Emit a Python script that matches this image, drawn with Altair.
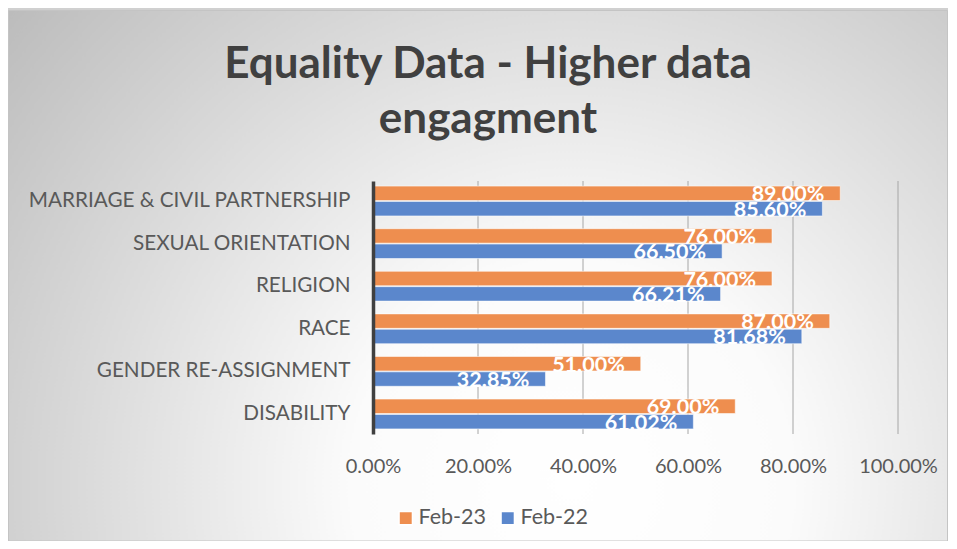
import altair as alt
import pandas as pd

# ---- data ----
categories = [
    "MARRIAGE & CIVIL PARTNERSHIP",
    "SEXUAL ORIENTATION",
    "RELIGION",
    "RACE",
    "GENDER RE-ASSIGNMENT",
    "DISABILITY",
]
feb23 = [0.89, 0.76, 0.76, 0.87, 0.51, 0.69]
feb22 = [0.856, 0.665, 0.6621, 0.8168, 0.3285, 0.6102]
series = ["Feb-23", "Feb-22"]
colors = ["#EE8E4F", "#5B87CC"]
axis_ticks = [0.0, 0.2, 0.4, 0.6, 0.8, 1.0]
grid_ticks = [0.2, 0.4, 0.6, 0.8, 1.0]
title_lines = ["Equality Data - Higher data", "engagment"]

rows = []
for c, a, b in zip(categories, feb23, feb22):
    rows.append({"category": c, "series": series[0], "value": a})
    rows.append({"category": c, "series": series[1], "value": b})
df = pd.DataFrame(rows)

# ---- layout ----
W, H = 525, 253
PL, PT, PR, PB = 365, 173, 50, 107
FONT = "Lato"
TEXT_GRAY = "#595959"

gradient = {
    "gradient": "radial",
    "x1": 0.6, "y1": 0.72, "r1": 0,
    "x2": 0.6, "y2": 0.72, "r2": 0.78,
    "stops": [
        {"offset": 0, "color": "#ffffff"},
        {"offset": 0.3, "color": "#fbfbfb"},
        {"offset": 1, "color": "#bcbcbc"},
    ],
}

bg = alt.Chart(pd.DataFrame({"k": [0]})).mark_rect(
    fill=gradient, stroke="#c4c4c4", strokeWidth=1
).encode(
    x=alt.value(-PL + 0.5), x2=alt.value(W + PR - 0.5),
    y=alt.value(-PT + 2.5), y2=alt.value(H + PB),
)

title = alt.Chart(pd.DataFrame({"k": [0]})).mark_text(
    text=title_lines, font=FONT, fontSize=44, fontWeight="bold", color="#404040",
    align="center", baseline="top", lineHeight=55,
).encode(x=alt.value(115), y=alt.value(-138))

xscale = alt.Scale(domain=[0, 1], nice=False)
x_axis = alt.Axis(
    values=axis_ticks, format=".2%", grid=False, domain=False, ticks=False,
    labelFont=FONT, labelFontSize=20, labelColor=TEXT_GRAY, labelPadding=22,
    labelOverlap=False, labelFlush=False, title=None, zindex=1,
)
y_axis = alt.Axis(
    title=None, ticks=False, domain=True, domainColor="#404040", domainWidth=3.5,
    labelFont=FONT, labelFontSize=20.7, labelColor=TEXT_GRAY, labelPadding=23,
    labelLimit=400, zindex=1,
)

grid = alt.Chart(pd.DataFrame({"value": grid_ticks})).mark_rule(
    color="#a6a6a6", strokeWidth=1
).encode(x=alt.X("value:Q", scale=xscale, axis=x_axis))

y_enc = alt.Y(
    "category:N", sort=categories,
    scale=alt.Scale(paddingInner=0.3, paddingOuter=0.12),
    axis=y_axis,
)
yoff_enc = alt.YOffset("series:N", sort=series, scale=alt.Scale(paddingInner=0.06))

bars = alt.Chart(df).mark_bar(
    stroke="#ffffff", strokeOpacity=0.55, strokeWidth=1
).encode(
    x=alt.X("value:Q", scale=xscale, axis=x_axis),
    y=y_enc, yOffset=yoff_enc,
    color=alt.Color(
        "series:N",
        scale=alt.Scale(domain=series, range=colors),
        legend=alt.Legend(
            title=None, orient="none", legendX=22, legendY=326, direction="horizontal",
            symbolType="square", symbolSize=180, labelFont=FONT, labelFontSize=21.5,
            labelColor=TEXT_GRAY, columnPadding=10, labelOffset=2, padding=0, zindex=1,
        ),
    ),
)

labels = alt.Chart(df).mark_text(
    align="right", baseline="middle", dx=-16, dy=2,
    font=FONT, fontWeight="bold", fontSize=21.5, color="white",
).encode(
    x=alt.X("value:Q", scale=xscale, axis=x_axis),
    y=y_enc,
    yOffset=yoff_enc,
    text=alt.Text("value:Q", format=".2%"),
)

chart = alt.layer(bg, grid, bars, labels, title).properties(
    width=W, height=H,
    autosize=alt.AutoSizeParams(type="none"),
    padding={"left": PL, "top": PT, "right": PR, "bottom": PB},
    background="#d0d0d0",
).configure_view(stroke="transparent")

chart.save("out.html", embed_options={"renderer": "svg", "actions": False})
